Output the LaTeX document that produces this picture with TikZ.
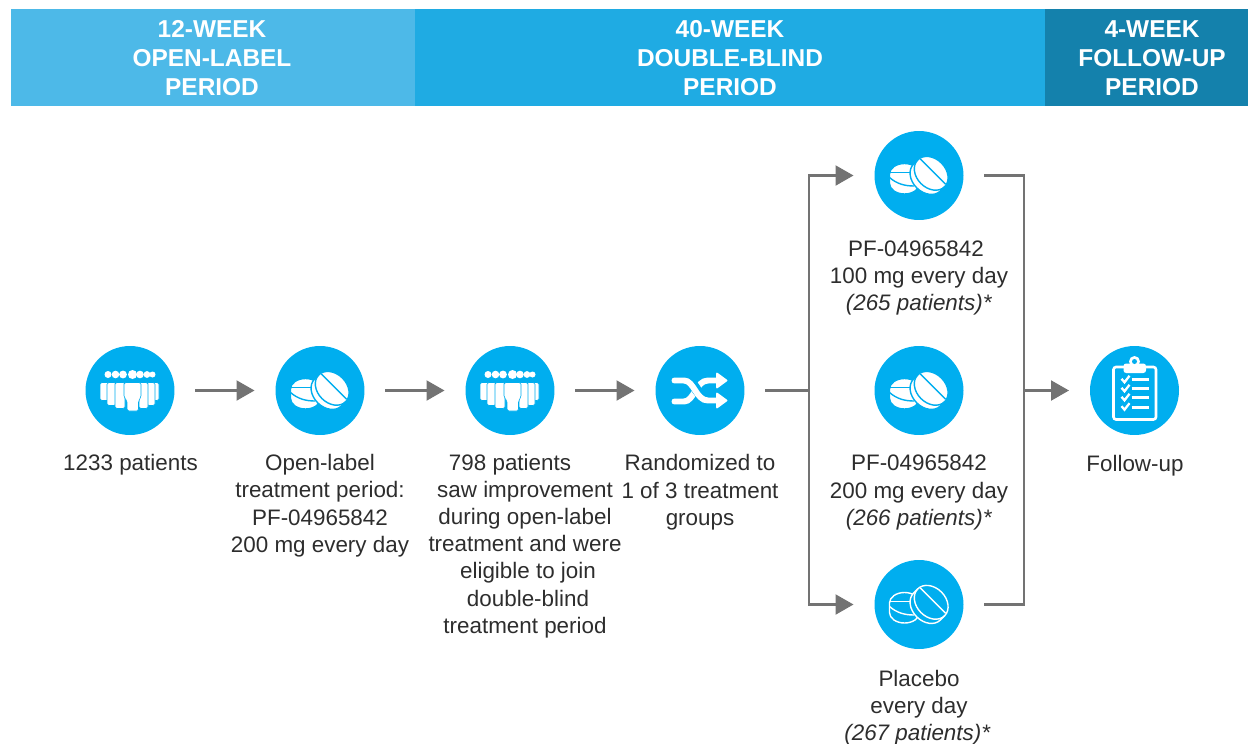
\documentclass[tikz,border=0pt]{standalone}
\usepackage{fontspec}
\setmainfont{Liberation Sans}
\usetikzlibrary{arrows.meta}
\definecolor{skylight}{RGB}{77, 185, 232}
\definecolor{skymid}{RGB}{31, 171, 227}
\definecolor{skydeep}{RGB}{20, 129, 172}
\definecolor{bubble}{RGB}{0, 174, 239}
\definecolor{connector}{RGB}{115, 115, 115}
\definecolor{ink}{RGB}{45, 45, 45}
\newcommand{\pillshape}[2]{
            \draw[fill=#1, draw=#2, line width=0.8pt] (-29.5,-1.5) arc (180:360:15 and 10.5) -- (0.5,8) arc (0:180:15 and 10.5) -- cycle;
            \draw[draw=#2, line width=0.8pt] (-29.5,2) .. controls (-22,8.5) and (-14,10.5) .. (-5,10.5);
            \draw[draw=#2, line width=0.8pt] (-29.5,-3) -- (-8,-3);
            \begin{scope}[shift={(12.2,-2.2)}, rotate=-45]
                \draw[fill=#1, draw=#2, line width=0.8pt] (-19,0) arc (180:360:19 and 14.5) -- (19,6) arc (0:180:19 and 14.5) -- cycle;
                \draw[draw=#2, line width=0.8pt] (-19,0) arc (180:0:19 and 14.5);
                \draw[draw=#2, line width=0.8pt] (-18,-2.5) -- (18,-2.5);
            \end{scope}
}
\tikzset{
    stepdisc/.style    = {circle, fill=bubble, inner sep=0pt, outer sep=0.42cm, minimum size=1.78cm},
    flowline/.style    = {draw=connector, line width=1.2pt},
    flowarrow/.style   = {flowline, -{Triangle[length=0.36cm, width=0.40cm]}},
    periodlabel/.style = {text=white, align=center, anchor=base, font=\fontsize{13.9}{16.5}\selectfont\bfseries},
    steplabel/.style   = {text=ink, align=center, anchor=base, inner sep=0pt, font=\fontsize{12.75}{15.37}\selectfont},
    pics/solidpill/.style  = {code={\pillshape{white}{bubble}}},
    pics/hollowpill/.style = {code={\pillshape{bubble}{white}}},
    pics/crowdicon/.style  = {code={
        \foreach \hx/\hr in {-22/3.5, -14.5/3.8, -7/3.9, 22.5/3, 17/3.4, 10/3.8, 2.5/4.5}
            \fill[white] (\hx,-16) circle (\hr);
        \foreach \bx/\bw/\bb in {-30/9/10, 21/8/10, -23/9/15, 17/8/15, -15/10/18, 9/9/18}
            \filldraw[fill=white, draw=bubble, line width=0.35pt, rounded corners=1pt] (\bx,-8) rectangle ++(\bw,\bb+8);
        \filldraw[fill=white, draw=bubble, line width=0.35pt, rounded corners=1pt] (-6,-8) -- (11,-8) -- (11,7) -- (8.5,10) -- (8.5,20.5) -- (-3,20.5) -- (-3,10) -- (-6,7) -- cycle;
    }},
    pics/shuffleicon/.style = {code={
        \draw[white, line width=3.4pt, line cap=round] (-25.5,11) -- (-16,11) .. controls (-6,11) and (-4,-10) .. (8,-10) -- (18,-10);
        \draw[bubble, line width=5.6pt] (-7,-6) .. controls (-4,-2) and (-2,2) .. (3,7);
        \draw[white, line width=3.4pt, line cap=round] (-25.5,-10) -- (-16,-10) .. controls (-6,-10) and (-4,10) .. (8,10) -- (18,10);
        \filldraw[white, line width=1pt, line join=round] (17,-17) -- (26.5,-10) -- (17,-3) -- cycle;
        \filldraw[white, line width=1pt, line join=round] (17,3) -- (26.5,10) -- (17,17) -- cycle;
    }},
    pics/clipboardicon/.style = {code={
        \draw[white, line width=1.5pt, rounded corners=1.5pt] (-21,-23.5) rectangle (21.5,29);
        \fill[white, rounded corners=1.5pt] (-11,-27) rectangle (11.5,-17.5);
        \fill[white] (0,-29) circle (5.5);
        \fill[bubble] (0,-29) circle (2.5);
        \foreach \ry in {-10.7, -1.7, 7.3, 16.7} {
            \draw[white, line width=1.6pt] (-3,\ry) -- (14,\ry);
            \draw[white, line width=1.3pt] (-13,\ry-1) -- (-10,\ry+2.5) -- (-5,\ry-4);
        }
    }},
}
\begin{document}
\begin{tikzpicture}[x=0.02cm, y=-0.02cm]
            \useasboundingbox (0,0) rectangle (1248,744);
            \fill[skylight] (11,9)    rectangle (415,106);
            \fill[skymid]   (415,9)   rectangle (1045,106);
            \fill[skydeep]  (1045,9)  rectangle (1248,106);
            \node[periodlabel] (openperiod)   at (212,95.5)  {12-WEEK\\OPEN-LABEL\\PERIOD};
            \node[periodlabel] (blindperiod)  at (730,95.5)  {40-WEEK\\DOUBLE-BLIND\\PERIOD};
            \node[periodlabel] (followperiod) at (1152,95.5) {4-WEEK\\FOLLOW-UP\\PERIOD};

            \node[stepdisc] (people)   at (130,390.5)   {};
            \node[stepdisc] (openpill) at (320,390.5)   {};
            \node[stepdisc] (improved) at (510,390.5)   {};
            \node[stepdisc] (shuffled) at (700,390.5)   {};
            \node[stepdisc] (lowdose)  at (919,175.5)   {};
            \node[stepdisc] (highdose) at (919,390.5)   {};
            \node[stepdisc] (placebo)  at (919,604.5)   {};
            \node[stepdisc] (followup) at (1134.5,390.5) {};
            \coordinate (split) at (809,390.5);
            \coordinate (merge) at (1024,390.5);

            \pic at (people)   {crowdicon};
            \pic at (openpill) {solidpill};
            \pic at (improved) {crowdicon};
            \pic at (shuffled) {shuffleicon};
            \pic at (lowdose)  {solidpill};
            \pic at (highdose) {solidpill};
            \pic at (placebo)  {hollowpill};
            \pic at (followup) {clipboardicon};

            \draw[flowarrow] (people)   -- (openpill);
            \draw[flowarrow] (openpill) -- (improved);
            \draw[flowarrow] (improved) -- (shuffled);
            \draw[flowline]  (shuffled) -- (split);
            \draw[flowarrow] (split) |- (lowdose);
            \draw[flowarrow] (split) |- (placebo);
            \draw[flowline]  (lowdose) -| (merge) |- (placebo);
            \draw[flowarrow] (merge) -- (followup);

            \node[steplabel] (peopletext)   at (130.5,470.5) {1233 patients};
            \node[steplabel] (opentext)     at (320,552)   {Open-label\\treatment period:\\PF-04965842\\200 mg every day};
            \node[steplabel] (improvedtext) at (525,633)   {798 patients\hspace*{0.60cm}\\saw improvement\hspace*{0.16cm}\\during open-label\\treatment and were\\\hspace*{0.12cm}eligible to join\\\hspace*{0.12cm}double-blind\\treatment period};
            \node[steplabel] (shuffledtext) at (700,525)   {Randomized to\\1 of 3 treatment\\groups};
            \node[steplabel] (lowtext)      at (919,310.5) {PF-04965842\hspace*{0.12cm}\\100 mg every day\\\textit{(265 patients)*}};
            \node[steplabel] (hightext)     at (919,525)   {PF-04965842\\200 mg every day\\\textit{(266 patients)*}};
            \node[steplabel] (placebotext)  at (919,740)   {Placebo\\every day\\\textit{(267 patients)*}\hspace*{0.06cm}};
            \node[steplabel] (followtext)   at (1135,471)  {Follow-up};
        \end{tikzpicture}
\end{document}
